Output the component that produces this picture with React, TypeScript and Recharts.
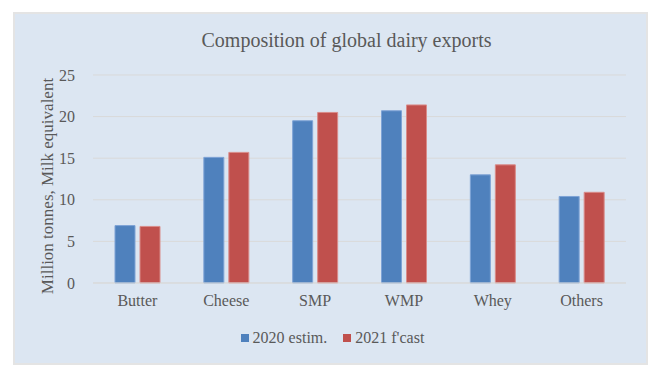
import React from "react";
import { BarChart, Bar, XAxis, YAxis, CartesianGrid, Legend } from "recharts";

const categories = ["Butter", "Cheese", "SMP", "WMP", "Whey", "Others"];
const estim2020 = [6.9, 15.1, 19.5, 20.7, 13.0, 10.4];
const fcast2021 = [6.8, 15.7, 20.5, 21.4, 14.2, 10.9];
const yTicks = [0, 5, 10, 15, 20, 25];

const data = categories.map((name, i) => ({
  name,
  estim: estim2020[i],
  fcast: fcast2021[i],
}));

const FONT = '"Liberation Serif", "Times New Roman", serif';
const TEXT = "#595959";
const BLUE = "#4f81bd";
const RED = "#c0504d";

const legendItems = [
  { label: "2020 estim.", color: BLUE },
  { label: "2021 f'cast", color: RED },
];

function LegendContent() {
  return (
    <div
      style={{
        display: "flex",
        justifyContent: "center",
        alignItems: "center",
        height: 30,
        fontFamily: FONT,
        fontSize: 16,
        color: TEXT,
        paddingLeft: 40,
      }}
    >
      {legendItems.map((it) => (
        <span key={it.label} style={{ display: "flex", alignItems: "center", marginRight: 16 }}>
          <span style={{ width: 8, height: 8, background: it.color, marginRight: 4, display: "inline-block" }} />
          {it.label}
        </span>
      ))}
    </div>
  );
}

export default function App() {
  return (
    <div style={{ width: 647, height: 380, paddingLeft: 5, paddingTop: 4 }}>
      <div
        style={{
          position: "relative",
          width: 635,
          height: 353,
          boxSizing: "border-box",
          border: "2px solid #e4e4e4",
          background: "#dce6f2",
        }}
      >
        <div
          style={{
            position: "absolute",
            left: 0,
            width: 631,
            top: 15,
            textAlign: "center",
            fontFamily: FONT,
            fontSize: 20,
            color: TEXT,
            paddingLeft: 32,
            boxSizing: "border-box",
          }}
        >
          Composition of global dairy exports
        </div>
        {/* rotated y-axis title, centred at about (48, 186) on the page */}
        <div
          style={{
            position: "absolute",
            left: 33 - 150,
            top: 172 - 10,
            width: 300,
            height: 20,
            lineHeight: "20px",
            textAlign: "center",
            transform: "rotate(-90deg)",
            fontFamily: FONT,
            fontSize: 17,
            color: TEXT,
            whiteSpace: "nowrap",
            zIndex: 1,
          }}
        >
          Million tonnes, Milk equivalent
        </div>
        <BarChart
          width={631}
          height={349}
          data={data}
          margin={{ top: 61, right: 20, left: 0, bottom: 10 }}
          barGap={5}
          barSize={20}
        >
          <CartesianGrid vertical={false} stroke="#d9d9d9" />
          <XAxis
            dataKey="name"
            axisLine={{ stroke: "#d9d9d9" }}
            tickLine={false}
            height={40}
            tickMargin={6}
            tick={{ fontFamily: FONT, fontSize: 16, fill: TEXT }}
          />
          <YAxis
            domain={[0, 25]}
            ticks={yTicks}
            width={78}
            axisLine={false}
            tickLine={false}
            tickMargin={12}
            tick={{ fontFamily: FONT, fontSize: 16, fill: TEXT }}
          />
          <Legend verticalAlign="bottom" height={30} content={<LegendContent />} />
          <Bar dataKey="estim" name="2020 estim." fill={BLUE} stroke="#7ea3d6" strokeWidth={1} isAnimationActive={false} />
          <Bar dataKey="fcast" name="2021 f'cast" fill={RED} stroke="#d98c8a" strokeWidth={1} isAnimationActive={false} />
        </BarChart>
      </div>
    </div>
  );
}
